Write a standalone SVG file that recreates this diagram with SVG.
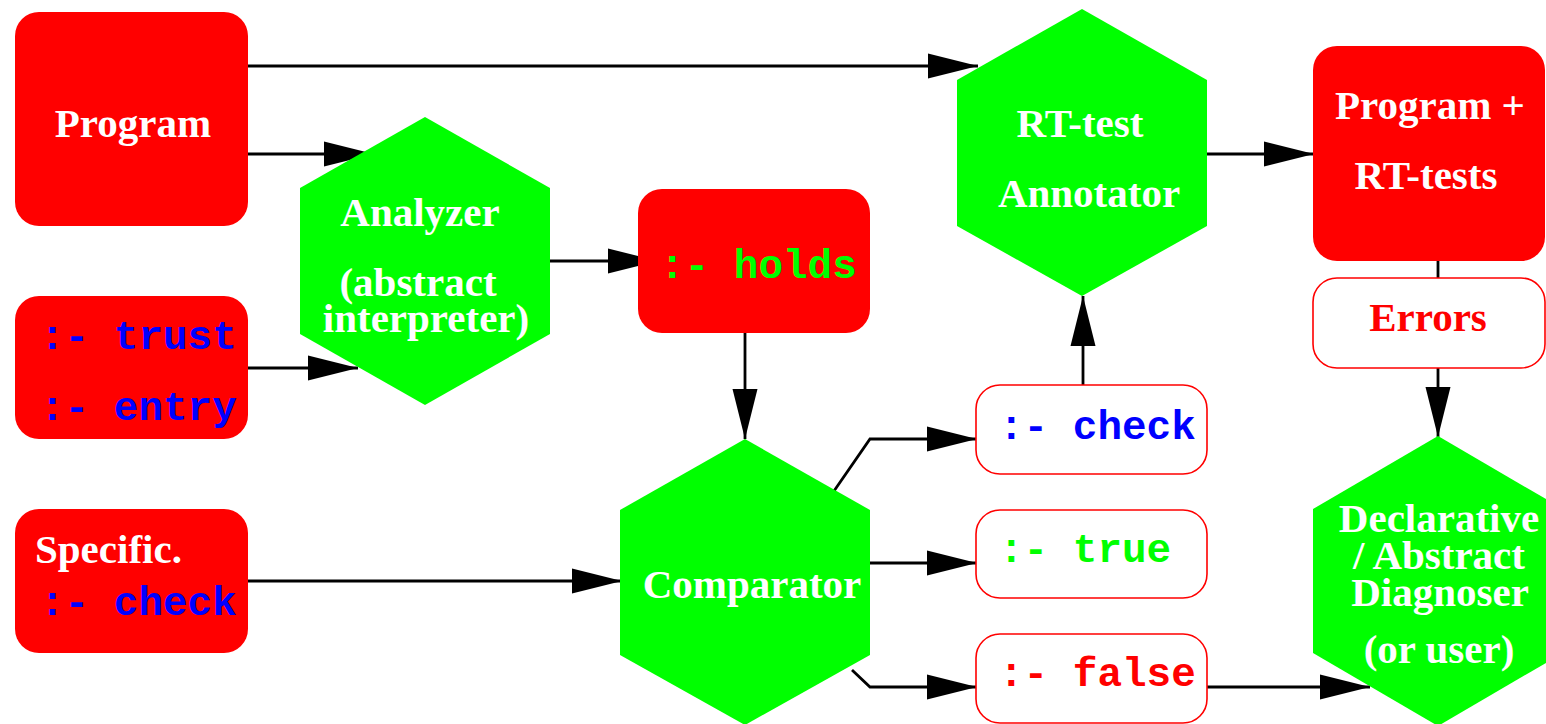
<svg xmlns="http://www.w3.org/2000/svg" width="1546" height="724" viewBox="0 0 1546 724">
<style>
.rbox{fill:#ff0000;stroke:none}
.wbox{fill:#ffffff;stroke:#ff0000;stroke-width:1.6}
.hex{fill:#00ff00;stroke:none}
.edge{fill:none;stroke:#000000;stroke-width:2.8}
.t{font-family:"Liberation Serif","Times New Roman",serif;font-weight:bold;font-size:41px;fill:#ffffff;text-anchor:middle}
.m{font-family:"Liberation Mono","Courier New",monospace;font-weight:bold;font-size:41px}
.blue{fill:#0000ff}
.green{fill:#00ff00}
.red{fill:#ff0000}
</style>
<defs>
<marker id="ah" markerUnits="userSpaceOnUse" markerWidth="50" markerHeight="26" refX="50" refY="12.5" orient="auto" overflow="visible">
<path d="M0,0 L50,12.5 L0,25 Z" fill="#000000"/>
</marker>
</defs>
<rect width="1546" height="724" fill="#ffffff"/>
<g id="connectors">
<path class="edge" d="M248,66 H978" marker-end="url(#ah)"/>
<path class="edge" d="M248,154 H374" marker-end="url(#ah)"/>
<path class="edge" d="M248,368 H358" marker-end="url(#ah)"/>
<path class="edge" d="M550,261 H658" marker-end="url(#ah)"/>
<path class="edge" d="M745,333 V439" marker-end="url(#ah)"/>
<path class="edge" d="M248,581 H622" marker-end="url(#ah)"/>
<path class="edge" d="M834,491 L870,439 H977" marker-end="url(#ah)"/>
<path class="edge" d="M870,563 H977" marker-end="url(#ah)"/>
<path class="edge" d="M852,670 L870,687 H977" marker-end="url(#ah)"/>
<path class="edge" d="M1083,385 V296" marker-end="url(#ah)"/>
<path class="edge" d="M1207,154 H1314" marker-end="url(#ah)"/>
<path class="edge" d="M1438,261 V278"/>
<path class="edge" d="M1438,368 V437" marker-end="url(#ah)"/>
<path class="edge" d="M1207,687 H1370" marker-end="url(#ah)"/>
</g>
<g id="program">
<rect class="rbox" x="15" y="12" width="233" height="214" rx="24"/>
<text class="t" x="133" y="137">Program</text>
</g>
<g id="trust-entry">
<rect class="rbox" x="15" y="296" width="233" height="143" rx="24"/>
<text class="m blue" x="40" y="349">:- trust</text>
<text class="m blue" x="40" y="420">:- entry</text>
</g>
<g id="specific">
<rect class="rbox" x="15" y="509" width="233" height="144" rx="24"/>
<text class="t" x="35" y="563" style="text-anchor:start">Specific.</text>
<text class="m blue" x="40" y="615">:- check</text>
</g>
<g id="analyzer">
<polygon class="hex" points="425,117 550,188 550,334 425,405 300,334 300,188"/>
<text class="t" x="420" y="226">Analyzer</text>
<text class="t" x="418" y="296">(abstract</text>
<text class="t" x="426" y="332">interpreter)</text>
</g>
<g id="holds">
<rect class="rbox" x="638" y="189" width="232" height="144" rx="24"/>
<text class="m green" x="660" y="278">:- holds</text>
</g>
<g id="comparator">
<polygon class="hex" points="745,439 870,510 870,655 745,725 620,655 620,510"/>
<text class="t" x="752" y="598">Comparator</text>
</g>
<g id="rt-annotator">
<polygon class="hex" points="1082,9 1207,80 1207,226 1082,296 957,226 957,80"/>
<text class="t" x="1080" y="137">RT-test</text>
<text class="t" x="1089" y="207">Annotator</text>
</g>
<g id="check">
<rect class="wbox" x="976" y="385" width="231" height="89" rx="24"/>
<text class="m blue" x="999" y="439">:- check</text>
</g>
<g id="true">
<rect class="wbox" x="976" y="510" width="231" height="88" rx="24"/>
<text class="m green" x="999" y="562">:- true</text>
</g>
<g id="false">
<rect class="wbox" x="976" y="634" width="231" height="89" rx="24"/>
<text class="m red" x="999" y="686">:- false</text>
</g>
<g id="program-rt">
<rect class="rbox" x="1313" y="46" width="232" height="215" rx="24"/>
<text class="t" x="1430" y="119">Program +</text>
<text class="t" x="1426" y="189">RT-tests</text>
</g>
<g id="errors">
<rect class="wbox" x="1313" y="278" width="232" height="90" rx="24"/>
<text class="t red" x="1428" y="331">Errors</text>
</g>
<g id="diagnoser">
<polygon class="hex" points="1438,436 1563,509 1563,653 1438,726 1313,653 1313,509"/>
<text class="t" x="1439" y="532">Declarative</text>
<text class="t" x="1439" y="569">/ Abstract</text>
<text class="t" x="1440" y="606">Diagnoser</text>
<text class="t" x="1439" y="663">(or user)</text>
</g>
</svg>
